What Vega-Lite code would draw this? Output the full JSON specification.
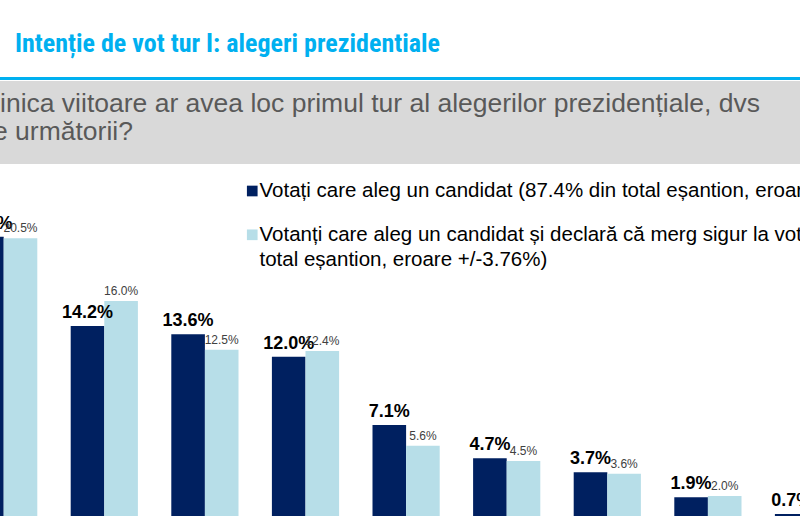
{
  "$schema": "https://vega.github.io/schema/vega-lite/v6.json",
  "padding": 0,
  "autosize": {"type": "pad"},
  "background": "white",
  "bounds": "flush",
  "spacing": 1,
  "config": {"view": {"stroke": null}},
  "vconcat": [
    {
      "width": 800,
      "height": 76,
      "data": {"values": [{"t": "Intenție de vot tur I: alegeri prezidentiale"}]},
      "mark": {"type": "text", "align": "left", "baseline": "alphabetic", "font": "Roboto Condensed", "fontWeight": "bold", "fontSize": 26, "color": "#00B0F0", "clip": true},
      "encoding": {"text": {"field": "t"}, "x": {"value": 15}, "y": {"value": 52}}
    },
    {
      "width": 800,
      "height": 3,
      "view": {"fill": "#00B0F0", "stroke": null},
      "data": {"values": [{"t": ""}]},
      "mark": {"type": "text", "clip": true},
      "encoding": {"text": {"field": "t"}, "x": {"value": 0}, "y": {"value": 0}}
    },
    {
      "width": 800,
      "height": 83,
      "view": {"fill": "#D9D9D9", "stroke": null},
      "layer": [
        {
          "data": {"values": [{"t": "inica viitoare ar avea loc primul tur al alegerilor prezidențiale, dvs"}]},
          "mark": {"type": "text", "align": "left", "baseline": "alphabetic", "font": "Liberation Sans", "fontSize": 26.5, "color": "#595959", "clip": true},
          "encoding": {"text": {"field": "t"}, "x": {"value": 0}, "y": {"value": 31}}
        },
        {
          "data": {"values": [{"t": "e următorii?"}]},
          "mark": {"type": "text", "align": "left", "baseline": "alphabetic", "font": "Liberation Sans", "fontSize": 26.5, "color": "#595959", "clip": true},
          "encoding": {"text": {"field": "t"}, "x": {"value": -7}, "y": {"value": 59}}
        }
      ]
    },
    {
      "width": 800,
      "height": 351,
      "data": {
        "values": [
          {"candidat": "Candidat 1", "serie": "total", "value": 20.6},
          {"candidat": "Candidat 1", "serie": "sigur", "value": 20.5},
          {"candidat": "Candidat 2", "serie": "total", "value": 14.2},
          {"candidat": "Candidat 2", "serie": "sigur", "value": 16.0},
          {"candidat": "Candidat 3", "serie": "total", "value": 13.6},
          {"candidat": "Candidat 3", "serie": "sigur", "value": 12.5},
          {"candidat": "Candidat 4", "serie": "total", "value": 12.0},
          {"candidat": "Candidat 4", "serie": "sigur", "value": 12.4},
          {"candidat": "Candidat 5", "serie": "total", "value": 7.1},
          {"candidat": "Candidat 5", "serie": "sigur", "value": 5.6},
          {"candidat": "Candidat 6", "serie": "total", "value": 4.7},
          {"candidat": "Candidat 6", "serie": "sigur", "value": 4.5},
          {"candidat": "Candidat 7", "serie": "total", "value": 3.7},
          {"candidat": "Candidat 7", "serie": "sigur", "value": 3.6},
          {"candidat": "Candidat 8", "serie": "total", "value": 1.9},
          {"candidat": "Candidat 8", "serie": "sigur", "value": 2.0},
          {"candidat": "Candidat 9", "serie": "total", "value": 0.7}
        ]
      },
      "transform": [{"calculate": "format(datum.value, '.1f') + '%'", "as": "label"}],
      "encoding": {
        "x": {
          "field": "candidat",
          "type": "nominal",
          "sort": null,
          "axis": null,
          "scale": {"range": [-46.6, 858.8], "paddingInner": 0.332, "paddingOuter": 0.166}
        },
        "xOffset": {"field": "serie", "type": "nominal", "scale": {"domain": ["total", "sigur"]}},
        "y": {
          "field": "value",
          "type": "quantitative",
          "axis": null,
          "stack": null,
          "scale": {"domain": [0.56, 25.76], "zero": false, "nice": false}
        }
      },
      "layer": [
        {
          "mark": {"type": "bar", "clip": true},
          "encoding": {
            "color": {
              "field": "serie",
              "type": "nominal",
              "scale": {"domain": ["total", "sigur"], "range": ["#002060", "#B7DEE8"]},
              "legend": {
                "orient": "none",
                "legendX": 242,
                "legendY": 180.75,
                "title": null,
                "direction": "vertical",
                "padding": 0,
                "symbolType": "square",
                "symbolSize": 114,
                "symbolStrokeWidth": 0,
                "labelFont": "Liberation Sans",
                "labelFontSize": 20.5,
                "labelColor": "#000000",
                "labelLimit": 2000,
                "labelOffset": -3,
                "labelBaseline": "alphabetic",
                "rowPadding": 22.8,
                "labelExpr": "datum.value == 'total' ? 'Votați care aleg un candidat (87.4% din total eșantion, eroare' : ['Votanți care aleg un candidat și declară că merg sigur la vot', 'total eșantion, eroare +/-3.76%)']",
                "encode": {"labels": {"update": {"dy": {"value": 6}, "lineHeight": {"value": 25}}}}
              }
            }
          }
        },
        {
          "transform": [{"filter": "datum.serie == 'total'"}],
          "mark": {"type": "text", "clip": true, "font": "Liberation Sans", "fontWeight": "bold", "fontSize": 18, "color": "#000000", "baseline": "alphabetic", "dy": -8},
          "encoding": {"text": {"field": "label"}}
        },
        {
          "transform": [{"filter": "datum.serie == 'sigur'"}],
          "mark": {"type": "text", "clip": true, "font": "Liberation Sans", "fontSize": 12, "color": "#404040", "baseline": "alphabetic", "dy": -6},
          "encoding": {"text": {"field": "label"}}
        }
      ]
    }
  ]
}
